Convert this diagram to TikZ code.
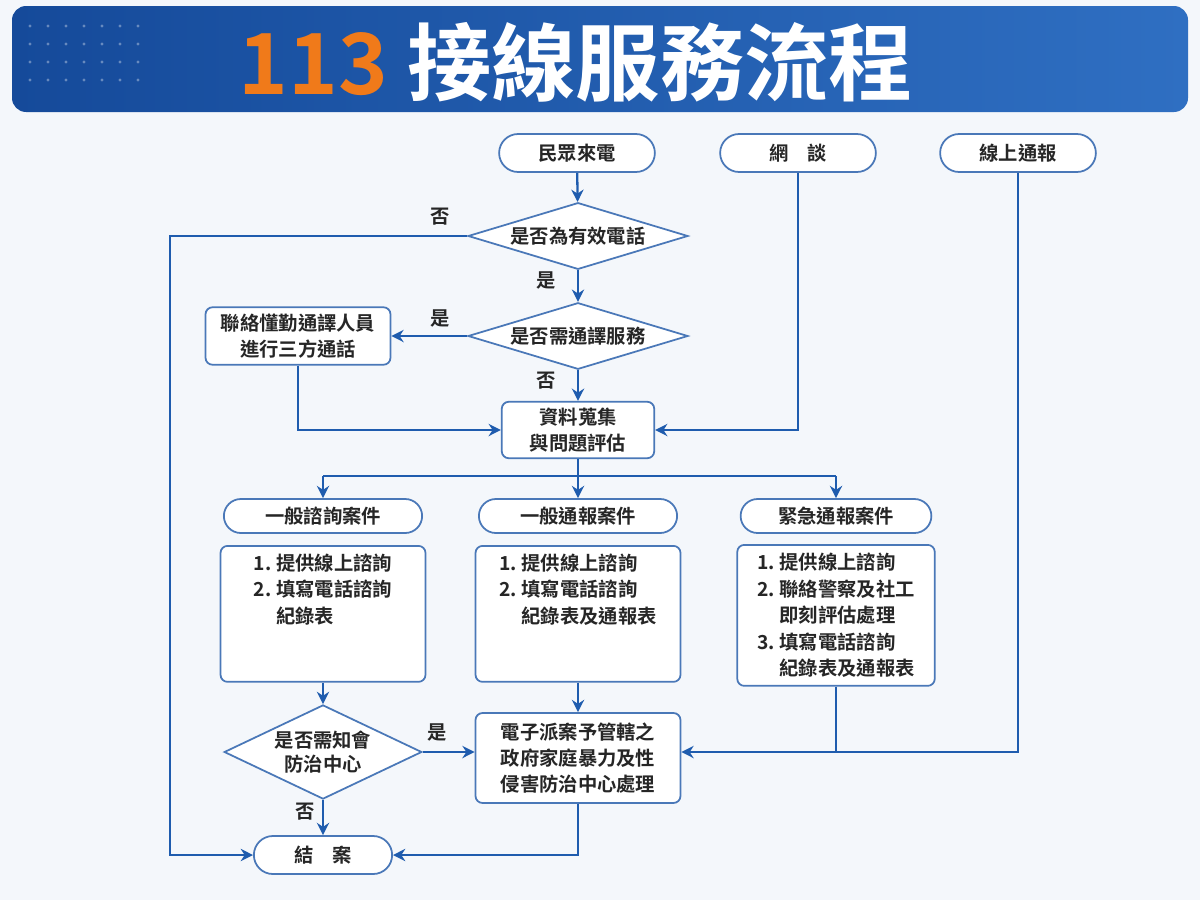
\documentclass[tikz,border=0pt]{standalone}
\usepackage{fontspec}
\setmainfont{Noto Sans CJK TC}[BoldFont={Noto Sans CJK TC Bold}]
\usetikzlibrary{shapes.geometric, shapes.misc, arrows.meta}
\definecolor{flowblue}{HTML}{1F5CAE}
\definecolor{edgeblue}{HTML}{4A78B8}
\definecolor{bgpale}{HTML}{F4F7FB}
\definecolor{headA}{HTML}{154A9A}
\definecolor{headB}{HTML}{2F6FC2}
\definecolor{numorange}{HTML}{F07A1A}
\tikzset{
  pill/.style = {draw=edgeblue, fill=white, rounded rectangle, line width=1pt,
    minimum height=1.0cm, font=\bfseries\fontsize{11pt}{13pt}\selectfont, text=black!85},
  box/.style = {draw=edgeblue, fill=white, rounded corners=4pt, line width=1pt,
    font=\bfseries\fontsize{11pt}{15pt}\selectfont, text=black!85, align=center},
  ask/.style = {draw=edgeblue, fill=white, diamond, aspect=3.1, line width=1pt, inner sep=1pt,
    font=\bfseries\fontsize{11pt}{14pt}\selectfont, text=black!85, align=center},
  flow/.style = {draw=flowblue, line width=1.3pt, -{Stealth[length=7pt,width=7pt]}},
  line/.style = {draw=flowblue, line width=1.3pt},
  tag/.style = {font=\bfseries\fontsize{11pt}{13pt}\selectfont, text=black!85}
}
\begin{document}
\begin{tikzpicture}[x=0.02cm, y=-0.02cm]
\useasboundingbox (0,0) rectangle (1200,900);
\fill[bgpale] (0,0) rectangle (1200,900);
% banner
\shade[left color=headA, right color=headB, rounded corners=8pt] (12,6) rectangle (1188,112);
\foreach \i in {0,...,6}{\foreach \j in {0,...,3}{
  \fill[white, opacity=.35] (30+\i*18, 26+\j*18) circle (1.6);}}
\node[font=\bfseries\fontsize{48pt}{54pt}\selectfont] (title) at (576,62)
  {\textcolor{numorange}{113} \textcolor{white}{接線服務流程}};
% top row
\node[pill, minimum width=3.35cm, minimum height=0.76cm] (call) at (577,153) {民眾來電};
\node[pill, minimum width=3.35cm, minimum height=0.76cm] (chat) at (798,153) {網\quad 談};
\node[pill, minimum width=3.35cm, minimum height=0.76cm] (web) at (1018,153) {線上通報};
\node[ask, minimum width=4.4cm] (valid) at (578,236) {是否為有效電話};
\node[ask, minimum width=4.4cm] (interp) at (578,336) {是否需通譯服務};
\node[box, minimum width=3.7cm, minimum height=1.15cm] (third) at (298,336) {聯絡懂勤通譯人員\\進行三方通話};
\node[box, minimum width=3.05cm, minimum height=1.12cm] (collect) at (578,430) {資料蒐集\\與問題評估};
% case types
\node[pill, minimum width=4.2cm, minimum height=0.68cm] (consult) at (323,516) {一般諮詢案件};
\node[pill, minimum width=4.2cm, minimum height=0.68cm] (report) at (578,516) {一般通報案件};
\node[pill, minimum width=4.05cm, minimum height=0.68cm] (urgent) at (836,516) {緊急通報案件};
\node[box, minimum width=4.1cm, minimum height=2.72cm, align=left, anchor=north] (consultbox) at (323,545)
  {1.\ 提供線上諮詢\\2.\ 填寫電話諮詢\\\phantom{2.\ }紀錄表\\[14pt]};
\node[box, minimum width=4.1cm, minimum height=2.72cm, align=left, anchor=north] (reportbox) at (578,545)
  {1.\ 提供線上諮詢\\2.\ 填寫電話諮詢\\\phantom{2.\ }紀錄表及通報表\\[14pt]};
\node[box, minimum width=3.95cm, minimum height=2.82cm, align=left, anchor=north] (urgentbox) at (836,544)
  {1.\ 提供線上諮詢\\2.\ 聯絡警察及社工\\\phantom{2.\ }即刻評估處理\\3.\ 填寫電話諮詢\\\phantom{3.\ }紀錄表及通報表};
% bottom
\node[ask, minimum width=3.9cm, aspect=2.1] (notify) at (323,752) {是否需知會\\防治中心};
\node[box, minimum width=4.1cm, minimum height=1.8cm] (dispatch) at (578,758) {電子派案予管轄之\\政府家庭暴力及性\\侵害防治中心處理};
\node[pill, minimum width=3.0cm, minimum height=0.76cm] (close) at (323,855) {結\quad 案};
% connectors
\draw[flow] (call) -- (valid);
\draw[flow] (valid.west) -- (170,236) |- (close.west);
\node[tag] (no1) at (440,217) {否};
\draw[flow] (valid) -- (interp);
\node[tag] (yes1) at (546,280) {是};
\draw[flow] (interp.west) -- (third.east |- interp.west);
\node[tag] (yes2) at (440,318) {是};
\draw[flow] (interp) -- (collect);
\node[tag] (no2) at (546,381) {否};
\draw[flow] (third.south) |- (collect.west);
\draw[flow] (chat.south) |- (collect.east);
\coordinate (split) at (578,476);
\draw[line] (collect.south) -- (split);
\draw[line] (323,476) -- (836,476);
\draw[flow] (323,476) -- (consult.north);
\draw[flow] (split) -- (report.north);
\draw[flow] (836,476) -- (urgent.north);
\draw[flow] (consultbox.south) -- (notify.north);
\draw[flow] (reportbox.south) -- (dispatch.north);
\draw[flow] (notify.east) -- (dispatch.west |- notify.east);
\node[tag] (yes3) at (437,732) {是};
\draw[flow] (notify.south) -- (close.north);
\node[tag] (no3) at (305,812) {否};
\coordinate (merge) at (836,752);
\draw[line] (urgentbox.south) -- (merge);
\draw[flow] (web.south) |- (dispatch.east |- merge);
\draw[flow] (dispatch.south) |- (close.east);
\end{tikzpicture}
\end{document}
